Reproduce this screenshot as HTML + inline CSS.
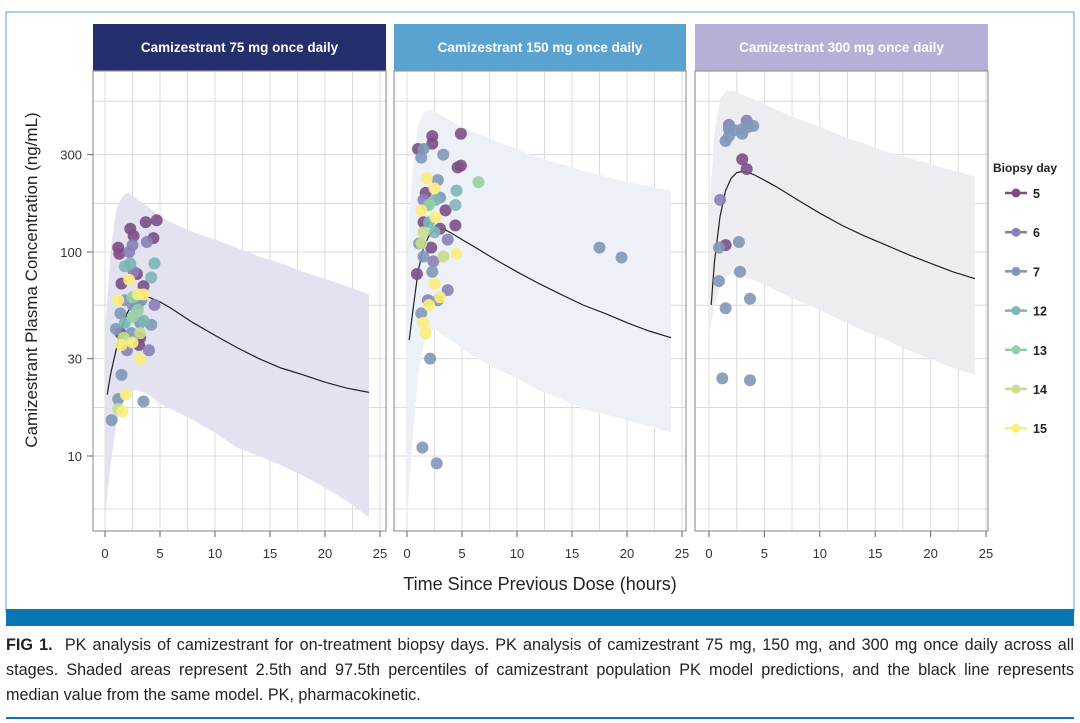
<!DOCTYPE html>
<html><head><meta charset="utf-8"><style>
body{margin:0;background:#fff;width:1080px;height:723px;overflow:hidden;font-family:"Liberation Sans",sans-serif}
svg{position:absolute;left:0;top:0}
#cap{position:absolute;left:6px;top:633px;width:1068px;font-size:16.2px;line-height:25px;color:#222;white-space:nowrap}
#cap .j{text-align:justify;text-align-last:justify}
</style></head><body>
<svg width="1080" height="723" id="fig"></svg>
<div id="cap"><div class="j"><b>FIG 1.</b>&nbsp; PK analysis of camizestrant for on-treatment biopsy days. PK analysis of camizestrant 75 mg, 150 mg, and 300 mg once daily across all</div><div class="j">stages. Shaded areas represent 2.5th and 97.5th percentiles of camizestrant population PK model predictions, and the black line represents</div><div>median value from the same model. PK, pharmacokinetic.</div></div>
<script>
const NS="http://www.w3.org/2000/svg";
const svg=document.getElementById('fig');
const panelTitles=["Camizestrant 75 mg once daily","Camizestrant 150 mg once daily","Camizestrant 300 mg once daily"];
const headerColors=["#23306d","#5aa3d1","#b5b0d6"];
const bandColors=["#e3e2f0","#edf0f7","#ececf1"];
const xTicks=[0,5,10,15,20,25];
const yTicks=[10,30,100,300];
const yTickLabels=["10","30","100","300"];
const legendDays=[5,6,7,12,13,14,15];
const dayColors={5:"#7b4f86",6:"#8a80b8",7:"#7f97b8",12:"#7cb6b6",13:"#93cfa4",14:"#c6dd8e",15:"#f9ed7c"};
const bandTimes=[0,0.5,1,1.5,2,2.5,3,4,5,6,8,10,12,14,16,18,20,22,24];
const upper1=[40,100,160,185,195,190,180,165,150,140,125,115,105,95,88,80,74,68,62];
const lower1=[5,9,14,18,20,21,21,20,18,17,15,13,11,10,9,8,7,6,5];
const upper2=[90,250,420,480,500,490,470,440,410,390,350,320,290,270,250,235,220,210,200];
const lower2=[5,12,25,35,40,42,40,37,34,31,27,24,21,19,17,16,15,14,13];
const upper3=[150,380,560,610,620,610,590,560,530,500,450,410,370,340,310,290,270,250,235];
const lower3=[40,55,68,75,78,78,76,73,69,65,58,52,46,41,37,33,30,27,25];
const medTimes=[0.2,0.5,1,1.5,2,2.5,3,3.5,4,5,6,8,10,12,14,16,18,20,22,24];
const median1=[20,25,33,42,50,56,59,60,60,57,53,45,39,34,30,27,25,23,21.5,20.5];
const median2=[37,50,80,105,120,128,130,128,124,115,107,92,80,70,62,55,50,45,41,38];
const median3=[55,90,150,200,230,245,248,245,240,225,210,180,155,135,120,108,97,88,80,74];
const pts1=[[5,1.3,98],[5,1.2,105],[5,2.3,130],[5,2.6,120],[5,3.7,140],[5,4.7,143],[5,4.4,117],[5,2.9,78],[5,1.5,70],[5,3.5,68],[5,1.4,40],[5,3.2,38],[5,3.1,35],[6,2.5,108],[6,3.8,112],[6,2.2,100],[6,2.6,80],[6,3,56],[6,2,33],[6,4,33],[6,4.5,55],[7,1,42],[7,1.4,50],[7,1.8,58],[7,2.5,55],[7,3.3,58],[7,0.6,15],[7,1.2,19],[7,3.5,18.5],[7,1.5,25],[7,2.4,40],[7,4.2,44],[7,3.2,45],[12,1.8,85],[12,2.3,88],[12,4.5,88],[12,4.2,75],[12,1.8,45],[12,3.5,46],[13,2.5,60],[13,3,52],[13,2.5,48],[14,1.7,38],[14,3.2,40],[14,1.2,17],[15,1.2,58],[15,1.5,35],[15,3,62],[15,3.5,62],[15,2.2,73],[15,1.9,20],[15,1.6,16.5],[15,3.2,30],[15,2.5,36]];
const pts2=[[5,2.3,370],[5,4.9,380],[5,1,320],[5,2.3,340],[5,4.6,260],[5,4.9,265],[5,1.7,195],[5,3.5,160],[5,1.5,140],[5,3,130],[5,4.4,135],[5,0.9,78],[5,2.2,105],[6,1.5,180],[6,3.7,115],[6,3.7,65],[6,1.9,58],[6,2.4,90],[7,1.3,290],[7,3.3,300],[7,1.5,320],[7,2.8,225],[7,1.8,170],[7,3,185],[7,1.1,110],[7,1.5,95],[7,2.3,80],[7,2.8,58],[7,1.3,50],[7,2.1,30],[7,1.4,11],[7,2.7,9.2],[7,17.5,105],[7,19.5,94],[12,2.6,180],[12,4.5,200],[12,4.4,170],[12,2,140],[12,2.5,125],[13,6.5,220],[13,2,170],[14,1.5,125],[14,1.3,110],[14,3.3,95],[15,1.8,230],[15,2.5,205],[15,1.3,160],[15,2.6,148],[15,2.5,70],[15,3,60],[15,1.5,45],[15,1.7,40],[15,4.5,98],[15,2,55]];
const pts3=[[6,1.8,420],[6,3.4,440],[7,1.8,400],[7,2.3,395],[7,3,400],[7,3.5,410],[7,4,415],[7,1.5,350],[7,1.8,370],[7,3,380],[5,3,285],[5,3.4,255],[6,1,180],[5,1.5,108],[7,0.9,105],[7,2.7,112],[7,0.9,72],[7,2.8,80],[7,1.5,53],[7,3.7,59],[7,1.2,24],[7,3.7,23.5]];
const panels=[{l:93,r:386,x0:105,x25:380,up:upper1,lo:lower1,med:median1,pts:pts1},
{l:394,r:686,x0:407,x25:682,up:upper2,lo:lower2,med:median2,pts:pts2},
{l:695,r:988,x0:709,x25:986,up:upper3,lo:lower3,med:median3,pts:pts3}];
const TOP=71,BOT=531;
function yS(v){return 456-204*Math.log10(v/10);}
function el(tag,attrs,parent){const e=document.createElementNS(NS,tag);for(const k in attrs)e.setAttribute(k,attrs[k]);(parent||svg).appendChild(e);return e;}
let fr=el('rect',{x:6,y:12,width:1068,height:600,fill:'none',stroke:'#6fb0d8','stroke-width':1.2});


panels.forEach((p,i)=>{
  const xS=t=>p.x0+(p.x25-p.x0)*t/25;
  const g=el('g',{});
  
  
  const hdr=el('rect',{x:p.l,y:24,width:p.r-p.l,height:TOP-24,fill:headerColors[i]},g);
  
  
  const ht=el('text',{x:(p.l+p.r)/2,y:52,'text-anchor':'middle',fill:'#fff','font-size':13.5,'font-weight':'bold'},g);
  ht.textContent=panelTitles[i];
  
  
  for(let t=0;t<=25;t+=2.5){el('line',{x1:xS(t),x2:xS(t),y1:TOP,y2:BOT,stroke:'#dcdcdc','stroke-width':1},g);}
  [5.5,10,17.3,30,54.8,100,173,300,548].forEach(v=>{el('line',{x1:p.l,x2:p.r,y1:yS(v),y2:yS(v),stroke:'#dcdcdc','stroke-width':1},g);});
  let d='M'+bandTimes.map((t,k)=>xS(t).toFixed(1)+','+yS(p.up[k]).toFixed(1)).join('L');
  for(let k=bandTimes.length-1;k>=0;k--)d+='L'+xS(bandTimes[k]).toFixed(1)+','+yS(p.lo[k]).toFixed(1);
  const band=el('path',{d:d+'Z',fill:bandColors[i]},g);
  
  
  const med=el('path',{d:'M'+medTimes.map((t,k)=>xS(t).toFixed(1)+','+yS(p.med[k]).toFixed(1)).join('L'),fill:'none',stroke:'#222','stroke-width':1.2},g);
  
  
  p.pts.forEach(pt=>{
    const c=el('circle',{cx:xS(pt[1]),cy:yS(pt[2]),r:6,fill:dayColors[pt[0]],'fill-opacity':0.9},g);
    
    
  });
  el('rect',{x:p.l,y:TOP,width:p.r-p.l,height:BOT-TOP,fill:'none',stroke:'#999','stroke-width':1.2},g);
  xTicks.forEach(t=>{
    el('line',{x1:xS(t),x2:xS(t),y1:BOT,y2:BOT+6,stroke:'#666'},g);
    const tx=el('text',{x:xS(t),y:558,'text-anchor':'middle','font-size':13,fill:'#333'},g);
    tx.textContent=t;
    
    
  });
});
yTicks.forEach((v,k)=>{
  el('line',{x1:87,x2:93,y1:yS(v),y2:yS(v),stroke:'#666'});
  const t=el('text',{x:82,y:yS(v)+5,'text-anchor':'end','font-size':13,fill:'#333'});
  t.textContent=yTickLabels[k];
  
  
});
const yt=el('text',{x:0,y:0,transform:'translate(37,280) rotate(-90)','text-anchor':'middle','font-size':17,fill:'#222'});
yt.textContent='Camizestrant Plasma Concentration (ng/mL)';


const xt=el('text',{x:540,y:590,'text-anchor':'middle','font-size':18,fill:'#222'});
xt.textContent='Time Since Previous Dose (hours)';


const lt=el('text',{x:993,y:172,'font-size':12,'font-weight':'bold',fill:'#222'});
lt.textContent='Biopsy day';


legendDays.forEach((d,k)=>{
  const y=193+k*39.2;
  const g=el('g',{});
  
  
  el('line',{x1:1005,x2:1027,y1:y,y2:y,stroke:dayColors[d],'stroke-width':2.5},g);
  el('circle',{cx:1016,cy:y,r:4.5,fill:dayColors[d]},g);
  const t=el('text',{x:1033,y:y+5,'font-size':12.5,'font-weight':'bold',fill:'#222'},g);
  t.textContent=d;
});
const bar=el('rect',{x:6,y:609,width:1068,height:17,fill:'#0b77b2'});


const rule=el('rect',{x:6,y:717,width:1068,height:2,fill:'#0b77b2'});


</script>
</body></html>
